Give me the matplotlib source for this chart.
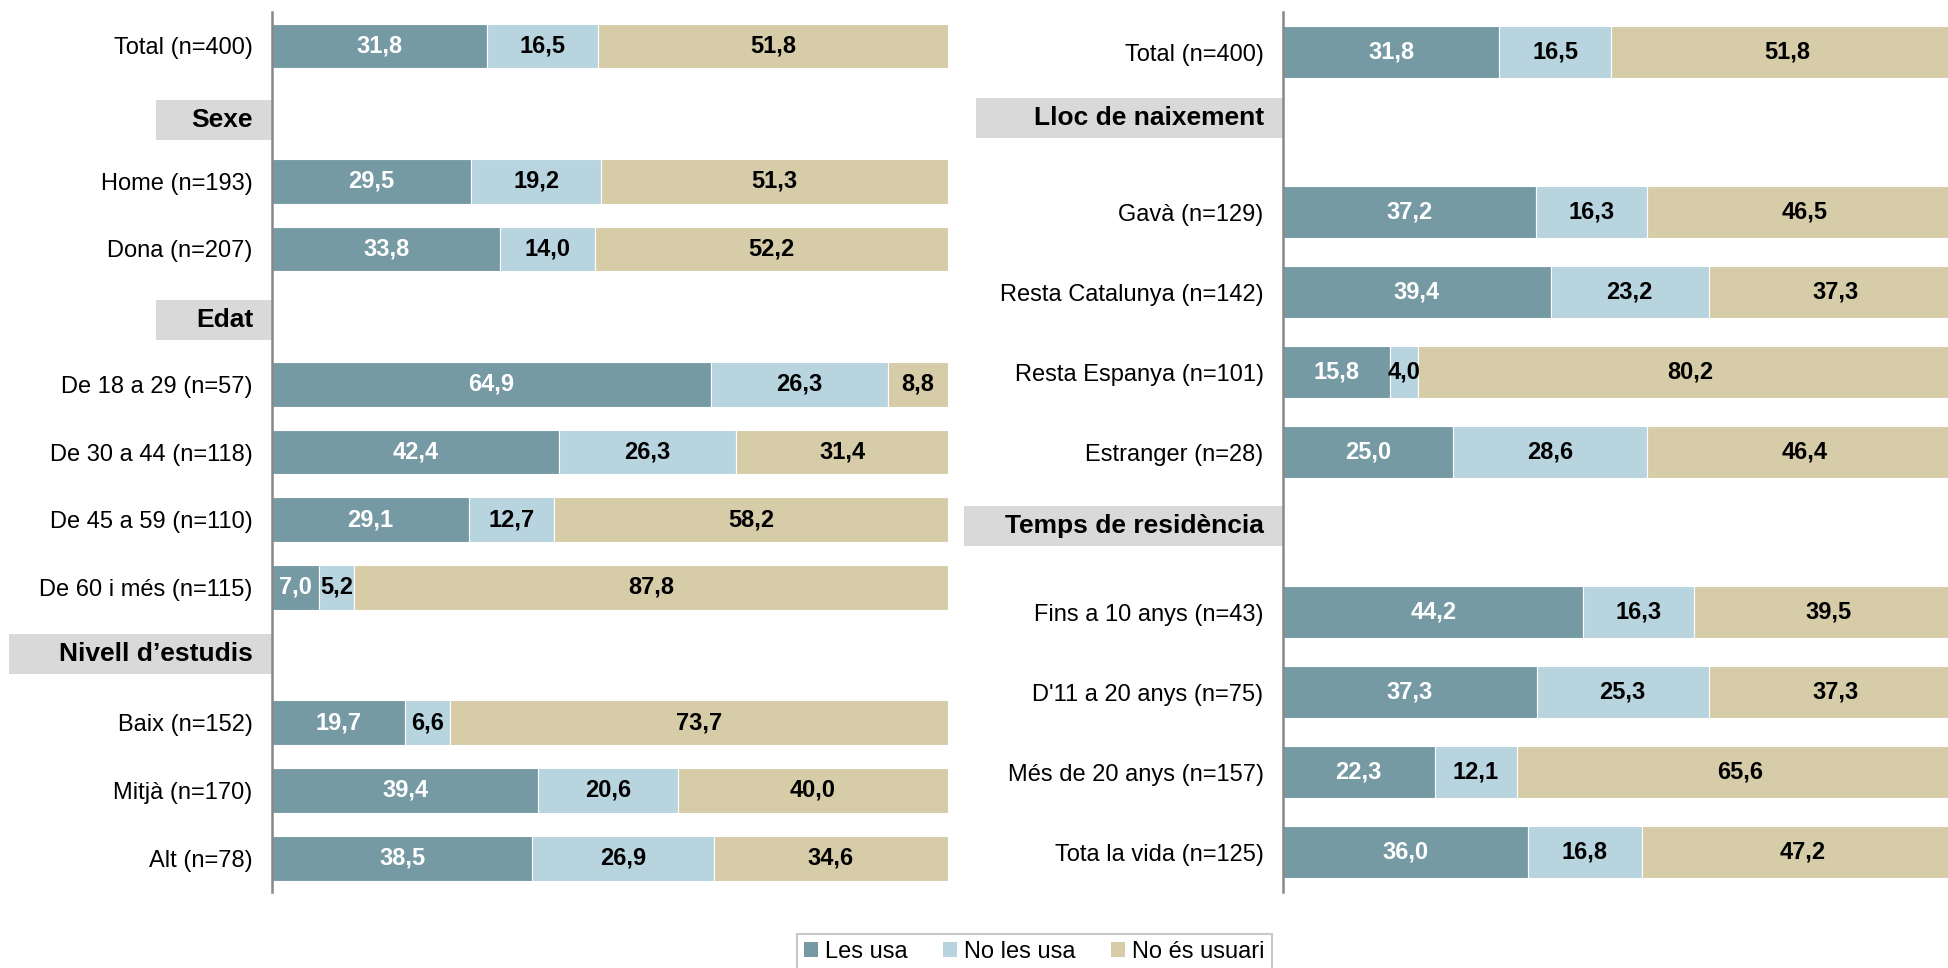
import matplotlib
matplotlib.use("Agg")
import matplotlib.pyplot as plt
from matplotlib.patches import Rectangle, Patch
from matplotlib.transforms import blended_transform_factory

plt.rcParams['font.family'] = ['Liberation Sans', 'DejaVu Sans']

series = ["Les usa", "No les usa", "No és usuari"]
colors = ["#769AA4", "#B7D4DF", "#D6CDA8"]
text_colors = ["white", "black", "black"]

# left panel (None = header row)
left_labels = ["Total (n=400)", None, "Home (n=193)", "Dona (n=207)", None,
               "De 18 a 29 (n=57)", "De 30 a 44 (n=118)", "De 45 a 59 (n=110)",
               "De 60 i més (n=115)", None, "Baix (n=152)", "Mitjà (n=170)", "Alt (n=78)"]
left_headers = ["Sexe", "Edat", "Nivell d\u2019estudis"]
left_usa = [31.8, None, 29.5, 33.8, None, 64.9, 42.4, 29.1, 7.0, None, 19.7, 39.4, 38.5]
left_nousa = [16.5, None, 19.2, 14.0, None, 26.3, 26.3, 12.7, 5.2, None, 6.6, 20.6, 26.9]
left_nousuari = [51.8, None, 51.3, 52.2, None, 8.8, 31.4, 58.2, 87.8, None, 73.7, 40.0, 34.6]

# right panel
right_labels = ["Total (n=400)", None, "Gavà (n=129)", "Resta Catalunya (n=142)",
                "Resta Espanya (n=101)", "Estranger (n=28)", None,
                "Fins a 10 anys (n=43)", "D'11 a 20 anys (n=75)",
                "Més de 20 anys (n=157)", "Tota la vida (n=125)"]
right_headers = ["Lloc de naixement", "Temps de residència"]
right_usa = [31.8, None, 37.2, 39.4, 15.8, 25.0, None, 44.2, 37.3, 22.3, 36.0]
right_nousa = [16.5, None, 16.3, 23.2, 4.0, 28.6, None, 16.3, 25.3, 12.1, 16.8]
right_nousuari = [51.8, None, 46.5, 37.3, 80.2, 46.4, None, 39.5, 37.3, 65.6, 47.2]


def fmt(v):
    return f"{v:.1f}".replace(".", ",")


def draw_panel(ax, labels, vals, headers, bar_h, hdr_off, hdr_x0, hdr_h):
    n = len(labels)
    rows = [i for i, l in enumerate(labels) if l is not None]
    hdr_rows = [i for i, l in enumerate(labels) if l is None]
    lefts = [0.0] * n
    for k, v in enumerate(vals):
        for i in rows:
            ax.barh(i, v[i], left=lefts[i], height=bar_h, color=colors[k],
                    edgecolor="white", linewidth=0.8)
            ax.text(lefts[i] + v[i] / 2, i, fmt(v[i]), ha="center", va="center",
                    color=text_colors[k], fontsize=17, fontweight="bold")
            lefts[i] += v[i]
    ax.set_yticks(rows)
    ax.set_yticklabels([labels[i] for i in rows], fontsize=17)
    ax.tick_params(axis="y", length=0, pad=14)
    ax.set_ylim(n - 0.5, -0.5)
    ax.set_xlim(0, 100)
    ax.set_xticks([])
    for s in ["top", "right", "bottom"]:
        ax.spines[s].set_visible(False)
    ax.spines["left"].set_color("#888888")
    ax.spines["left"].set_linewidth(1.8)
    tr = blended_transform_factory(ax.transAxes, ax.transData)
    for r, name, off, x0 in zip(hdr_rows, headers, hdr_off, hdr_x0):
        y = r + off
        ax.add_patch(Rectangle((x0, y - hdr_h / 2), -x0, hdr_h, transform=tr,
                               facecolor="#D9D9D9", edgecolor="none", clip_on=False))
        ax.text(-0.028, y, name, transform=tr, ha="right", va="center",
                fontsize=19, fontweight="bold")


fig = plt.figure(figsize=(19.48, 9.68), dpi=100)
ax1 = fig.add_axes([0.1396, 0.0785, 0.347, 0.909])
ax2 = fig.add_axes([0.6586, 0.0785, 0.349, 0.909])

draw_panel(ax1, left_labels, [left_usa, left_nousa, left_nousuari], left_headers,
           0.66, [0.09, 0.05, -0.01], [-0.172, -0.172, -0.389], 0.59)
draw_panel(ax2, right_labels, [right_usa, right_nousa, right_nousuari], right_headers,
           0.65, [-0.17, -0.08], [-0.451, -0.469], 0.5)

handles = [Patch(facecolor=c, edgecolor="none") for c in colors]
leg = fig.legend(handles, series, loc="upper center", bbox_to_anchor=(0.531, 0.040),
                 ncol=3, fontsize=17, frameon=True, fancybox=False,
                 handlelength=0.6, handleheight=0.6, handletextpad=0.3,
                 columnspacing=1.5, borderpad=0.3, borderaxespad=0.2)
leg.get_frame().set_edgecolor("#BBBBBB")
leg.get_frame().set_linewidth(1.5)

fig.savefig("out.png", dpi=100)
